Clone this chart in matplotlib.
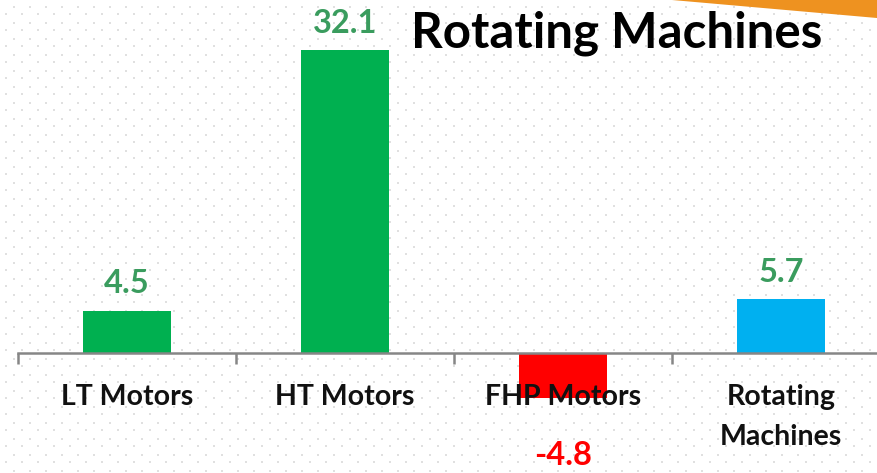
import numpy as np
import matplotlib
matplotlib.use("Agg")
import matplotlib.pyplot as plt
from matplotlib.patches import Polygon

categories = ["LT Motors", "HT Motors", "FHP Motors", "Rotating\nMachines"]
values = [4.5, 32.1, -4.8, 5.7]
bar_colors = ["#00B050", "#00B050", "#FF0000", "#00B0F0"]
label_colors = ["#3A9C5E", "#3A9C5E", "#FF0000", "#3A9C5E"]
title = "Rotating Machines"

W, H = 877, 473
fig = plt.figure(figsize=(W / 100, H / 100), dpi=100)
fig.patch.set_facecolor("white")

# dotted background
bg = np.ones((H, W, 3))
for y0, xoff in ((6, 13), (13, 5)):
    for y in range(y0, H, 16):
        for x in range(xoff, W, 16):
            bg[y:y + 2, x:x + 2] = 0.88
fig.figimage(bg, xo=0, yo=0, origin="upper", zorder=-5)

# orange wedge top-right
fig.patches.append(Polygon([(672 / W, 1.0), (1.0, 1.0), (1.0, 1 - 18 / H)],
                           closed=True, transform=fig.transFigure,
                           facecolor="#EE9220", edgecolor="none", zorder=0))

ax = fig.add_axes([18 / W, 0, (890 - 18) / W, 1])
ax.set_facecolor("none")
x = np.arange(len(categories))
ax.bar(x, values, width=0.4, color=bar_colors, zorder=1)
ax.set_xlim(-0.5, len(categories) - 0.5)
ax.set_ylim(-12.7, 37.4)
ax.xaxis.set_zorder(3)

for s in ("top", "right", "left"):
    ax.spines[s].set_visible(False)
ax.spines["bottom"].set_position(("data", 0))
ax.spines["bottom"].set_color("#868686")
ax.spines["bottom"].set_linewidth(1.8)
ax.set_yticks([])
ax.set_xticks(x)
ax.set_xticks(np.arange(-0.5, len(categories), 1.0), minor=True)
ax.tick_params(axis="x", which="major", length=0, pad=22)
ax.tick_params(axis="x", which="minor", length=8, width=1.8, color="#868686", direction="out")
ax.set_xticklabels(categories, fontsize=20.5, fontweight="bold", family="Lato",
                   color="#111111", linespacing=1.68)

for xi, v, c in zip(x, values, label_colors):
    off = 9 if v >= 0 else -31
    ax.annotate(f"{v}", (xi, v), xytext=(0, off), textcoords="offset points",
                ha="center", va="bottom" if v >= 0 else "top",
                fontsize=23.5, fontweight="bold", family="Lato", color=c)

fig.text(617 / W, 1 - 33 / H, title, ha="center", va="center",
         fontsize=35.5, fontweight="bold", family="Lato", color="black")

fig.savefig("out.png", dpi=100, facecolor="white")
